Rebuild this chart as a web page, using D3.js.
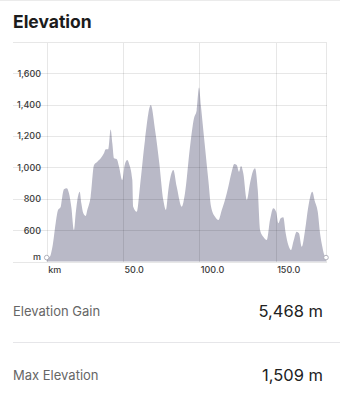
<!DOCTYPE html>
<html>
<head>
<meta charset="utf-8">
<script src="https://cdn.jsdelivr.net/npm/d3@7"></script>
<style>
  body { margin: 0; background: #fff; }
  svg { display: block; font-family: Inter, "Noto Sans", sans-serif; }
  .grid { stroke: #000; stroke-opacity: 0.095; stroke-width: 1; }
  .tick-label { font-size: 9px; font-weight: 500; fill: #3a3a3a; }
</style>
</head>
<body>
<svg id="canvas" width="340" height="405"></svg>
<script>
// distance along the route (km)
const distance = [
  0, 2, 3.7, 5.9, 7.4, 9.2, 10.2, 11.3, 13.1, 14.6, 16.1, 17.9, 19.0, 20.1, 21.6, 22.7,
  24.0, 25.6, 26.6, 28.8, 31.0, 33.2, 35.4, 37.5, 38.7, 40.4, 41.9, 43.0, 44.1, 45.9,
  47.4, 49.5, 51.1, 52.8, 53.9, 56.1, 56.7, 59.0, 61.1, 64.4, 68.2, 71.0, 73.8, 76.4,
  78.2, 79.7, 83.0, 85.2, 88.5, 90.6, 93.9, 96.5, 98.3, 99.8, 101.1, 103.7, 105.9,
  107.7, 110.3, 112.5, 114.7, 116.8, 119.0, 121.2, 122.9, 124.5, 126.0, 127.3, 128.8,
  131.1, 133.2, 135.0, 136.5, 138.3, 139.8, 141.9, 144.2, 146.3, 148.5, 150.3, 151.8,
  153.3, 155.0, 156.6, 158.3, 160.1, 161.6, 163.8, 165.3, 167.1, 169.3, 171.4, 174.0,
  175.8, 177.6, 179.1, 180.6, 181.9, 183.0
];
// elevation (m)
const elevation = [
  425, 430, 490, 645, 728, 749, 813, 860, 866, 834, 749, 601, 707, 792, 845, 771,
  707, 690, 728, 813, 1015, 1036, 1057, 1089, 1115, 1115, 1240, 1153, 1057, 1051,
  1004, 919, 1015, 1046, 1025, 919, 749, 717, 876, 1174, 1397, 1238, 1025, 792,
  728, 855, 983, 876, 749, 834, 1131, 1312, 1365, 1509, 1386, 1131, 919,
  749, 685, 664, 728, 792, 876, 972, 1021, 1015, 972, 1008, 962,
  792, 898, 972, 994, 855, 601, 558, 537, 664, 739, 717, 643,
  675, 682, 580, 505, 473, 526, 590, 580, 494, 601, 749, 845,
  781, 717, 580, 494, 441, 425
];

const yTicks = [400, 600, 800, 1000, 1200, 1400, 1600, 1800];
const yTickLabels = ['m', '600', '800', '1,000', '1,200', '1,400', '1,600', ''];
const xTicks = [0, 50, 100, 150];
const xTickLabels = ['km', '50.0', '100.0', '150.0'];

const stats = [
  { label: 'Elevation Gain', value: '5,468 m' },
  { label: 'Max Elevation', value: '1,509 m' }
];

const points = distance.map((d, i) => ({ km: d, m: elevation[i] }));

const svg = d3.select('#canvas');

const xScale = d3.scaleLinear()
  .domain([0, 183])
  .range([46.7, 326]);
const yScale = d3.scaleLinear()
  .domain([400, 1800])
  .range([261.5, 41.7]);

// top separator
svg.append('line')
  .attr('x1', 0).attr('x2', 340)
  .attr('y1', 0.5).attr('y2', 0.5)
  .attr('stroke', '#ebebeb');

svg.append('text')
  .attr('x', 13)
  .attr('y', 28)
  .attr('font-size', 17.5)
  .attr('font-weight', 700)
  .attr('fill', '#1c1c1c')
  .text('Elevation');

// profile
const area = d3.area()
  .x(d => xScale(d.km))
  .y0(yScale(400))
  .y1(d => yScale(d.m))
  .curve(d3.curveMonotoneX);

svg.append('path')
  .datum(points)
  .attr('d', area)
  .attr('fill', '#b9b9c7');

// gridlines, drawn over the profile
const grid = svg.append('g');
grid.selectAll('line.h')
  .data(yTicks)
  .enter().append('line')
  .attr('class', 'grid h')
  .attr('x1', 13).attr('x2', 327)
  .attr('y1', d => Math.round(yScale(d)) + 0.5)
  .attr('y2', d => Math.round(yScale(d)) + 0.5);

grid.selectAll('line.v')
  .data(xTicks.concat([183]))
  .enter().append('line')
  .attr('class', 'grid v')
  .attr('x1', d => Math.round(xScale(d)) + 0.5)
  .attr('x2', d => Math.round(xScale(d)) + 0.5)
  .attr('y1', Math.round(yScale(1800)) + 1)
  .attr('y2', Math.round(yScale(400)));

// start / end markers
svg.selectAll('circle')
  .data([points[0], points[points.length - 1]])
  .enter().append('circle')
  .attr('cx', d => xScale(d.km))
  .attr('cy', d => yScale(d.m))
  .attr('r', 2.3)
  .attr('fill', '#fff')
  .attr('stroke', '#a9a9b4')
  .attr('stroke-width', 0.9);

// y labels
svg.selectAll('text.ylab')
  .data(yTicks)
  .enter().append('text')
  .attr('class', 'tick-label ylab')
  .attr('x', 41)
  .attr('y', (d, i) => i === 0 ? yScale(d) - 5.5 : yScale(d))
  .attr('text-anchor', 'end')
  .attr('dominant-baseline', 'central')
  .text((d, i) => yTickLabels[i]);

// x labels
svg.selectAll('text.xlab')
  .data(xTicks)
  .enter().append('text')
  .attr('class', 'tick-label xlab')
  .attr('x', d => xScale(d) + 1.5)
  .attr('y', 273)
  .text((d, i) => xTickLabels[i]);

// stats rows
const rowY = [316, 380];
stats.forEach((s, i) => {
  svg.append('text')
    .attr('x', 13)
    .attr('y', rowY[i])
    .attr('font-size', 13)
    .attr('fill', '#666')
    .text(s.label);
  svg.append('text')
    .attr('x', 323)
    .attr('y', rowY[i] + 1)
    .attr('text-anchor', 'end')
    .attr('font-size', 16.5)
    .attr('fill', '#222')
    .text(s.value);
});

svg.append('line')
  .attr('x1', 13).attr('x2', 340)
  .attr('y1', 342.5).attr('y2', 342.5)
  .attr('stroke', '#e6e6e9');
</script>
</body>
</html>
